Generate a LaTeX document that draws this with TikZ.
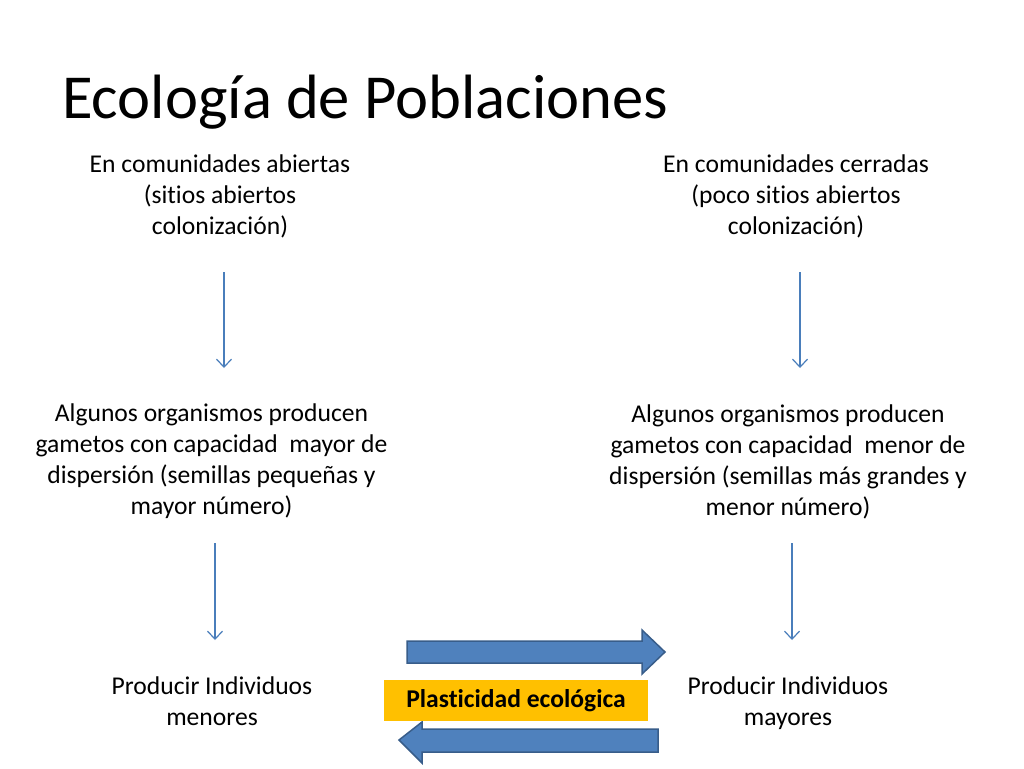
\documentclass[tikz,border=0pt]{standalone}
\usepackage{fontspec}
\setmainfont[Ligatures={NoCommon}]{Carlito}
\usetikzlibrary{arrows.meta}
\definecolor{thinblue}{HTML}{4A7EBB}
\definecolor{blockfill}{HTML}{4F81BD}
\definecolor{blockline}{HTML}{385D8A}
\definecolor{orangebox}{HTML}{FFC000}
\tikzset{
  bodytext/.style={align=center, inner sep=0pt, font=\fontsize{25.6}{31}\selectfont},
  thinarrow/.style={draw=thinblue, line width=1.2pt, -{Straight Barb[length=8pt,width=15pt,line width=1.2pt]}},
  blockarrow/.style={fill=blockfill, draw=blockline, line width=1.5pt, line join=miter}
}
\begin{document}
\begin{tikzpicture}[x=1pt,y=-1pt]
\useasboundingbox[fill=white] (0,0) rectangle (1024,768);
\node[anchor=base west, inner sep=0pt, font=\fontsize{62.6}{75}\selectfont] (title) at (62,118) {Ecología de Poblaciones};

\node[bodytext] (tl) at (220,196) {En comunidades abiertas\\(sitios abiertos\\colonización)};
\node[bodytext] (tr) at (796,196) {En comunidades cerradas\\(poco sitios abiertos\\colonización)};
\node[bodytext] (ml) at (211.5,461.5) {Algunos organismos producen\\gametos con capacidad\ \ mayor de\\dispersión (semillas pequeñas y\\mayor número)};
\node[bodytext] (mr) at (788,461.5) {Algunos organismos producen\\gametos con capacidad\ \ menor de\\dispersión (semillas más grandes y\\menor número)};
\node[bodytext] (bl) at (212,701) {Producir Individuos\\menores};
\node[bodytext] (br) at (788,703) {Producir Individuos\\mayores};

\coordinate (a1s) at (224,272); \coordinate (a1e) at (224,368);
\coordinate (a2s) at (800,272); \coordinate (a2e) at (800,368);
\coordinate (a3s) at (215,543); \coordinate (a3e) at (215,640);
\coordinate (a4s) at (792,543); \coordinate (a4e) at (792,640);
\draw[thinarrow] (a1s) -- (a1e);
\draw[thinarrow] (a2s) -- (a2e);
\draw[thinarrow] (a3s) -- (a3e);
\draw[thinarrow] (a4s) -- (a4e);

\path[blockarrow] (407,641) -- (642,641) -- (642,630) -- (665,652) -- (642,674) -- (642,663) -- (407,663) -- cycle;
\path[blockarrow] (658,729) -- (422,729) -- (422,722) -- (399,740) -- (422,763) -- (422,752) -- (658,752) -- cycle;

\node[fill=orangebox, minimum width=264pt, minimum height=41pt, inner sep=0pt, font=\bfseries\fontsize{25.6}{31}\selectfont] (plast) at (516,700.5) {Plasticidad ecológica};
\end{tikzpicture}
\end{document}
